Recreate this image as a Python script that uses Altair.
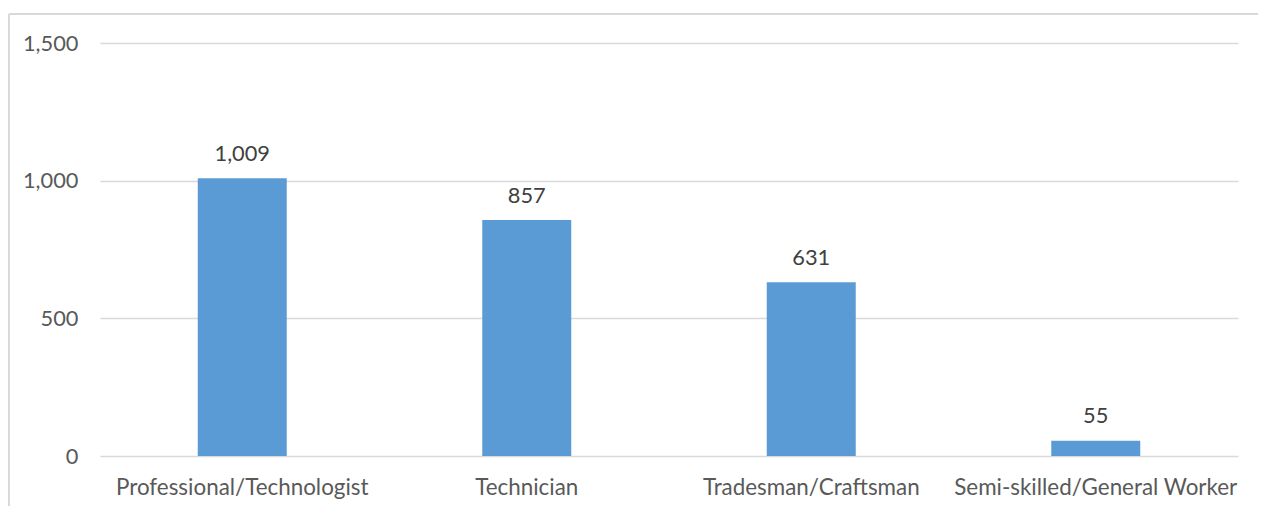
import altair as alt
import pandas as pd

categories = ["Professional/Technologist", "Technician", "Tradesman/Craftsman", "Semi-skilled/General Worker"]
values = [1009, 857, 631, 55]
y_ticks = [0, 500, 1000, 1500]

df = pd.DataFrame({"category": categories, "value": values})

FONT = "Lato"
TXT = "#595959"
GRID = "#D9D9D9"

x_enc = alt.X("category:N", sort=categories, title=None,
              scale=alt.Scale(paddingInner=0, paddingOuter=0),
              axis=alt.Axis(labelAngle=0, labelFont=FONT, labelFontSize=22.4, labelColor=TXT,
                            labelPadding=20, labelLimit=0, ticks=False, domain=False, grid=False))
y_enc = alt.Y("value:Q", title=None,
              scale=alt.Scale(domain=[0, 1500], nice=False),
              axis=alt.Axis(values=y_ticks, format=",.0f", labelFont=FONT, labelFontSize=21.8,
                            labelColor=TXT, labelPadding=22, ticks=False, domain=False,
                            grid=True, gridColor=GRID, gridWidth=1.5))

base = alt.Chart(df)
bars = base.mark_bar(size=89, color="#5B9BD5").encode(x=x_enc, y=y_enc)
labels = base.mark_text(baseline="bottom", dy=-12.5, font=FONT, fontSize=21.8, color="#404040").encode(
    x=alt.X("category:N", sort=categories), y="value:Q", text=alt.Text("value:Q", format=",.0f"))

border_top = alt.Chart(df).mark_rule(color=GRID, strokeWidth=1.5).encode(
    x=alt.value(-91), x2=alt.value(1200), y=alt.value(-29), y2=alt.value(-29))
border_left = alt.Chart(df).mark_rule(color=GRID, strokeWidth=1.5).encode(
    x=alt.value(-91), x2=alt.value(-91), y=alt.value(-29), y2=alt.value(500))

chart = alt.layer(bars, labels, border_top, border_left).properties(
    width=1138, height=413,
    autosize=alt.AutoSizeParams(type="none"),
    padding={"left": 92, "top": 35, "right": 20, "bottom": 50},
    background="white",
).configure_view(stroke=None)

chart.save("out.html", embed_options={"renderer": "svg", "actions": False})
